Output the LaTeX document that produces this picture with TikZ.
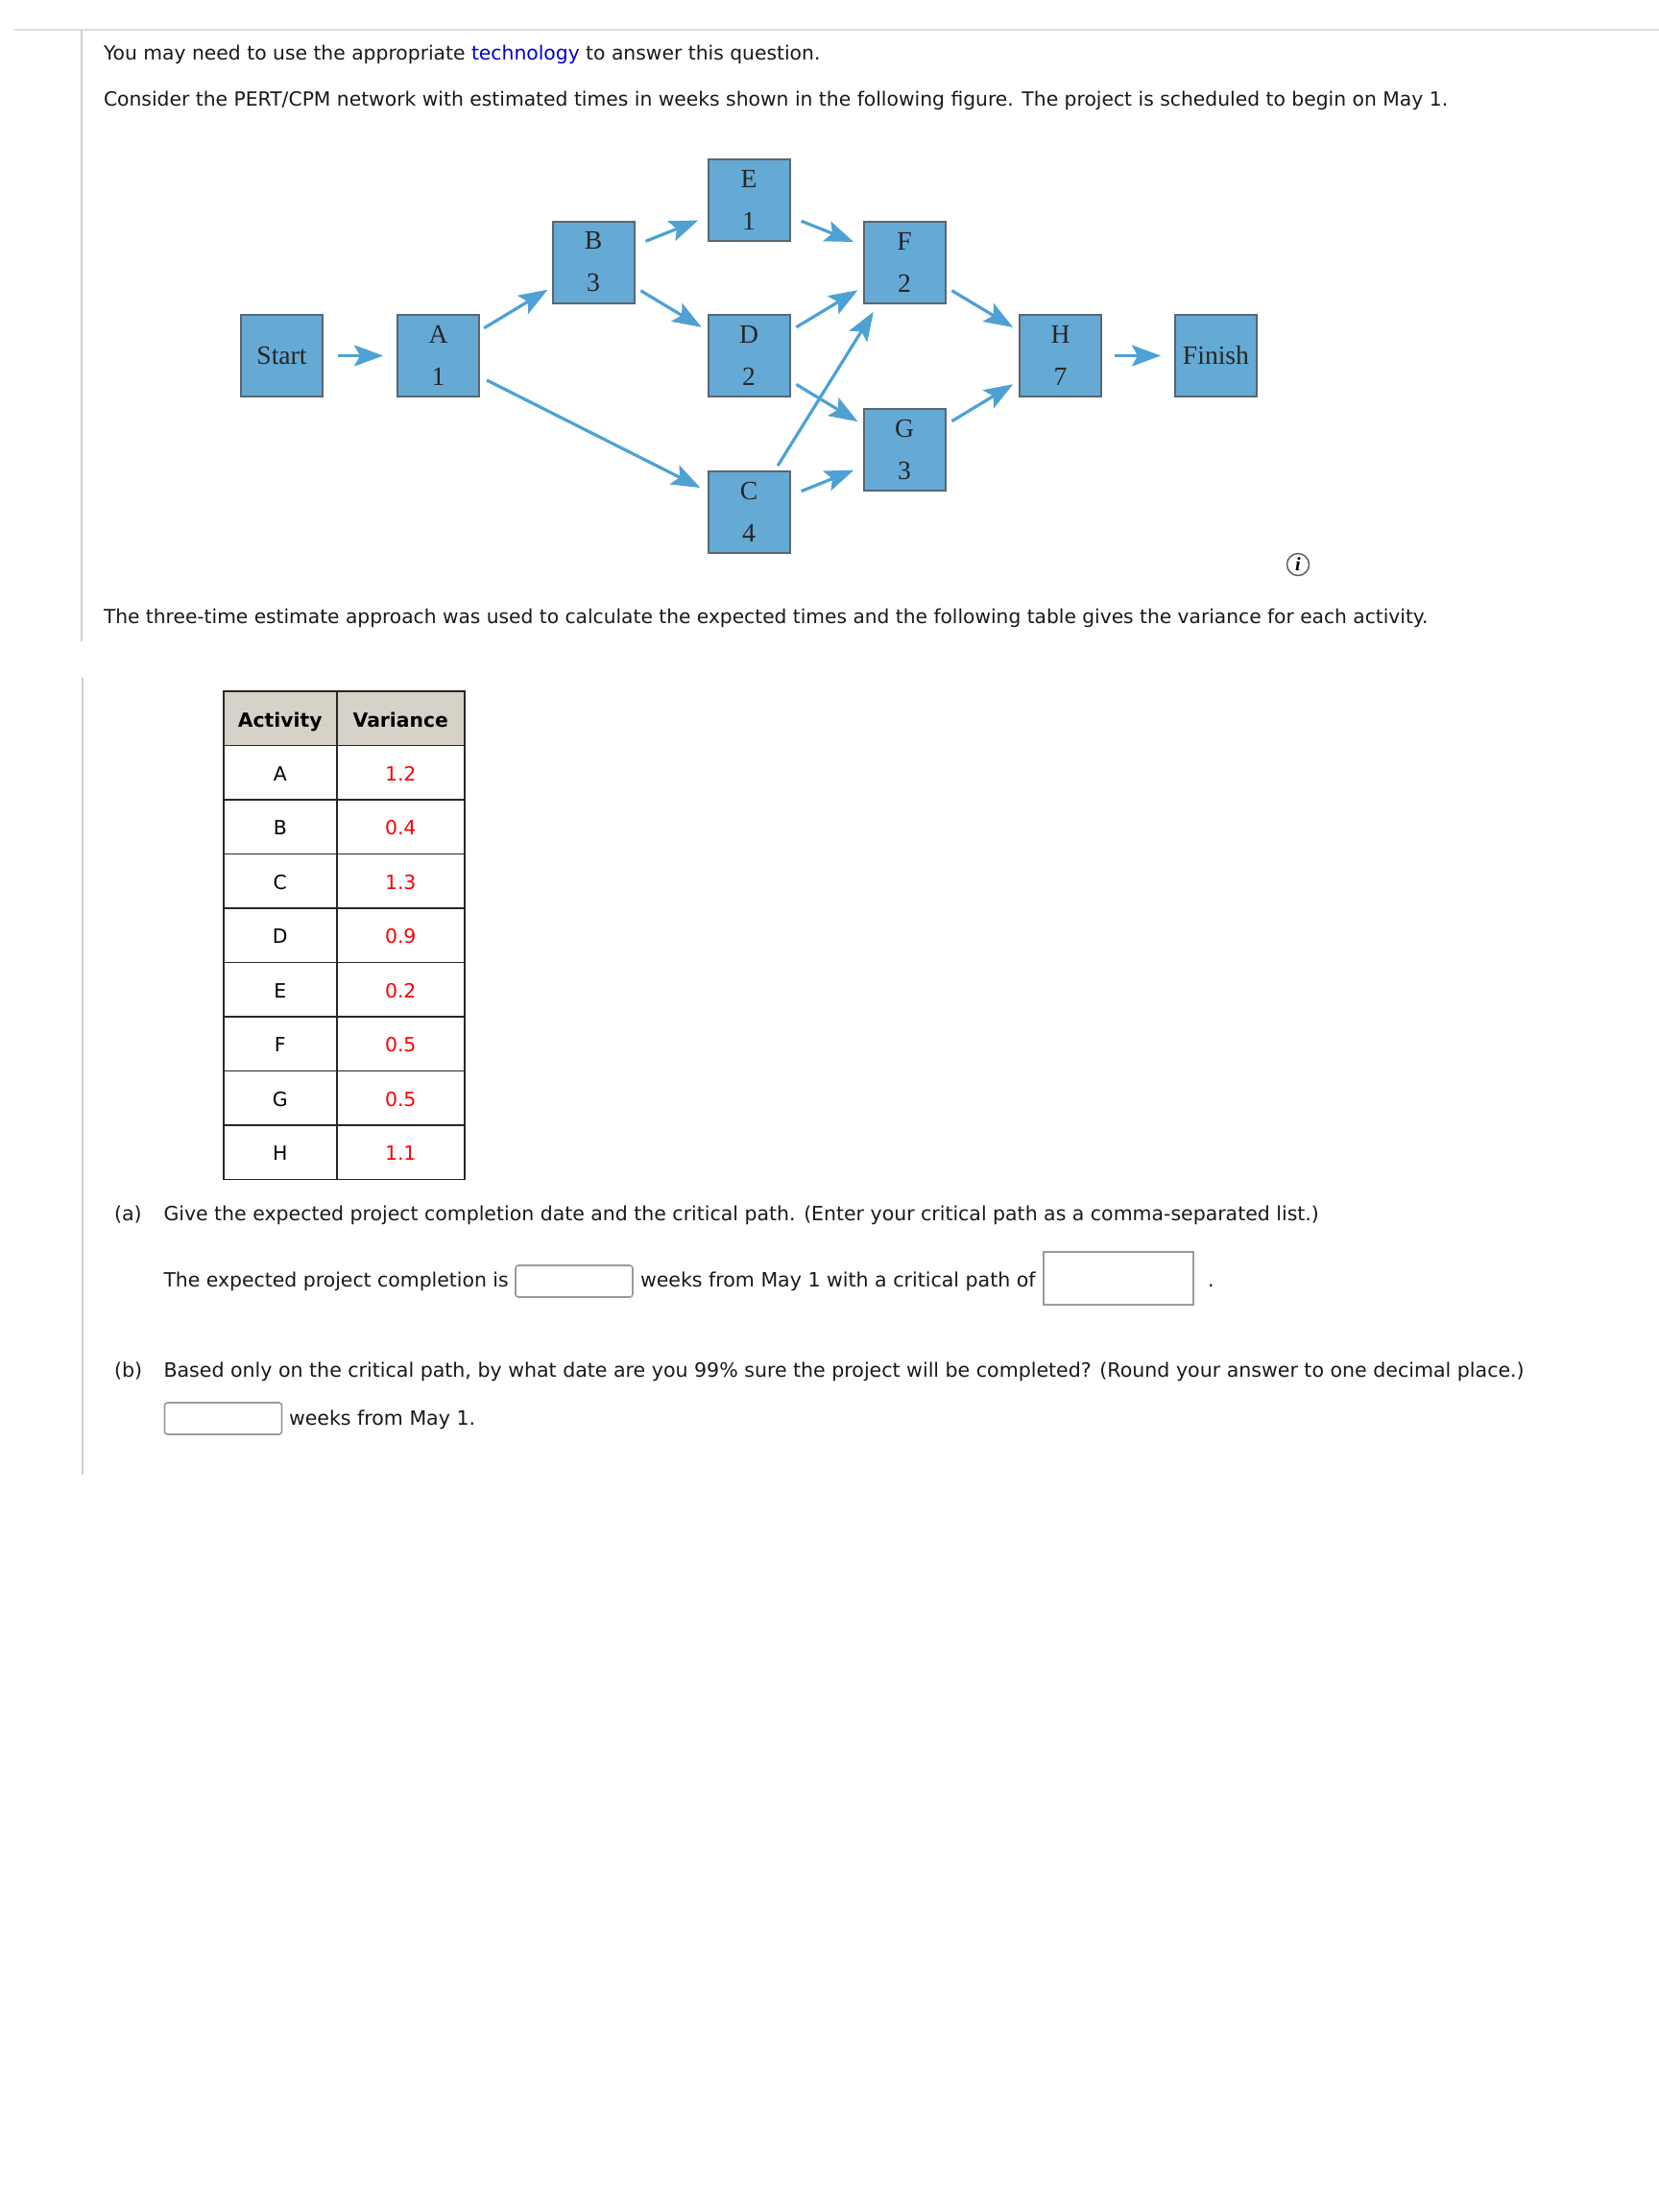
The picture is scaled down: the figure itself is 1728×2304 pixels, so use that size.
\documentclass[tikz,border=0pt]{standalone}
\usepackage{fontspec}
\setmainfont{DejaVu Sans}
\newfontfamily\boxfont{Liberation Serif}
\usetikzlibrary{arrows.meta}
\definecolor{boxfill}{HTML}{65A9D5}
\definecolor{boxline}{HTML}{5A6670}
\definecolor{arrowcol}{HTML}{4EA1D3}
\definecolor{headfill}{HTML}{D6D2C8}
\definecolor{rulecol}{HTML}{CFCFCF}
\definecolor{linkblue}{HTML}{0000CC}
\definecolor{inputline}{HTML}{9A9A9A}
\tikzset{
  x=0.5pt,y=-0.5pt,
  netbox/.style={draw=boxline,line width=1pt,fill=boxfill,minimum width=42.5pt,minimum height=42.5pt,inner sep=0pt,outer sep=0pt,align=center,font=\boxfont\fontsize{13.8}{22}\selectfont,text=black!85},
  flow/.style={draw=arrowcol,line width=1.6pt,-{Stealth[length=15pt,width=11pt,inset=3pt]}},
  txt/.style={anchor=base west,inner sep=0pt,outer sep=0pt,font=\fontsize{10.15}{12}\selectfont,text=black!90},
  txtq/.style={txt,font=\fontsize{10.27}{12}\selectfont},
  cellA/.style={draw=black!85,line width=.8pt,minimum width=59pt,minimum height=28.25pt,inner sep=0pt,outer sep=0pt,text height=8.5pt,text depth=0pt,font=\fontsize{10.2}{12}\selectfont},
  cellB/.style={draw=black!85,line width=.8pt,minimum width=66.5pt,minimum height=28.25pt,inner sep=0pt,outer sep=0pt,text height=8.5pt,text depth=0pt,font=\fontsize{10.2}{12}\selectfont,text=red},
  headcell/.style={fill=headfill,text=black,text height=9.5pt,font=\bfseries\fontsize{10.15}{12}\selectfont},
  inputbox/.style={draw=inputline,line width=.8pt,fill=white,inner sep=0pt,outer sep=0pt,rounded corners=1.5pt},
  page rule/.style={draw=rulecol,line width=1pt},
}
\begin{document}
\begin{tikzpicture}
\useasboundingbox[fill=white] (0,0) rectangle (1728,2304);
% page rules
\coordinate (hl) at (15,31); \coordinate (hr) at (1728,31);
\coordinate (v1a) at (85,31); \coordinate (v1b) at (85,668);
\coordinate (v2a) at (86,706); \coordinate (v2b) at (86,1536);
\draw[draw=black!12,line width=1pt] (hl) -- (hr);
\draw[page rule] (v1a) -- (v1b);
\draw[page rule] (v2a) -- (v2b);
% intro text
\node[txt] (t1) at (108,62) {You may need to use the appropriate \textcolor{linkblue}{technology} to answer this question.};
\node[txt] (t2) at (108,110) {Consider the PERT/CPM network with estimated times in weeks shown in the following figure. The project is scheduled to begin on May 1.};
% network
\node[netbox] (Start) at (293.5,370.5) {Start};
\node[netbox] (A) at (456.5,370.5) {A\\1};
\node[netbox] (B) at (618,273) {B\\3};
\node[netbox] (E) at (780,208.5) {E\\1};
\node[netbox] (D) at (780,370.5) {D\\2};
\node[netbox] (C) at (780,533.5) {C\\4};
\node[netbox] (F) at (942,273) {F\\2};
\node[netbox] (G) at (942,468.5) {G\\3};
\node[netbox] (H) at (1104.5,370.5) {H\\7};
\node[netbox] (Finish) at (1266.5,370.5) {Finish};
\draw[flow,shorten <=8pt,shorten >=7.5pt] (Start) -- (A);
\draw[flow,shorten <=3pt,shorten >=3pt] (A) -- (B);
\draw[flow,shorten <=4.5pt,shorten >=4.5pt] (A) -- (C);
\draw[flow,shorten <=6.5pt,shorten >=5.5pt] (B) -- (E);
\draw[flow,shorten <=4pt,shorten >=4pt] (B) -- (D);
\draw[flow,shorten <=6.5pt,shorten >=5.5pt] (E) -- (F);
\draw[flow,shorten <=4pt,shorten >=3.5pt] (D) -- (F);
\draw[flow,shorten <=4pt,shorten >=3.5pt] (D) -- (G);
\draw[flow,shorten <=3.5pt,shorten >=5.5pt] (C) -- (F);
\draw[flow,shorten <=6.5pt,shorten >=5.5pt] (C) -- (G);
\draw[flow,shorten <=4pt,shorten >=4pt] (F) -- (H);
\draw[flow,shorten <=4pt,shorten >=4pt] (G) -- (H);
\draw[flow,shorten <=7pt,shorten >=7.5pt] (H) -- (Finish);
% info icon
\node[draw=black!65,line width=.7pt,circle,minimum size=11.5pt,inner sep=0pt] (info) at (1352,588) {\boxfont\bfseries\itshape\fontsize{10}{10}\selectfont i};
\node[txt,font=\fontsize{10.1}{12}\selectfont] (t3) at (108,649.5) {The three-time estimate approach was used to calculate the expected times and the following table gives the variance for each activity.};
% table
\node[cellA,headcell] (h1) at (291.75,748.25) {Activity};
\node[cellB,headcell] (h2) at (417.25,748.25) {Variance};
\foreach \n/\a/\v [count=\i from 1] in {a/A/1.2,b/B/0.4,c/C/1.3,d/D/0.9,e/E/0.2,f/F/0.5,g/G/0.5,h/H/1.1}{
  \node[cellA] (ca\n) at (291.75,{748.25+56.5*\i}) {\a};
  \node[cellB] (cb\n) at (417.25,{748.25+56.5*\i}) {\v};
}
% questions
\node[txtq] (pa) at (119,1271) {(a)};
\node[txtq,font=\fontsize{10.23}{12}\selectfont] (qa) at (170.5,1271) {Give the expected project completion date and the critical path. (Enter your critical path as a comma-separated list.)};
\node[txtq,font=\fontsize{10.2}{12}\selectfont] (l1) at (170.5,1340) {The expected project completion is};
\node[inputbox,minimum width=61pt,minimum height=16.5pt] (in1) at (598,1334.5) {};
\node[txtq] (l2) at (667,1340) {weeks from May 1 with a critical path of};
\node[inputbox,rounded corners=0pt,minimum width=78pt,minimum height=27.5pt] (in2) at (1165,1331.5) {};
\node[txtq] (dot) at (1258,1340) {.};
\node[txtq] (pb) at (119,1434) {(b)};
\node[txtq] (qb) at (170.5,1434) {Based only on the critical path, by what date are you 99\% sure the project will be completed? (Round your answer to one decimal place.)};
\node[inputbox,minimum width=61pt,minimum height=16.5pt] (in3) at (232.5,1477.5) {};
\node[txtq] (l3) at (301,1484) {weeks from May 1.};
\end{tikzpicture}
\end{document}
